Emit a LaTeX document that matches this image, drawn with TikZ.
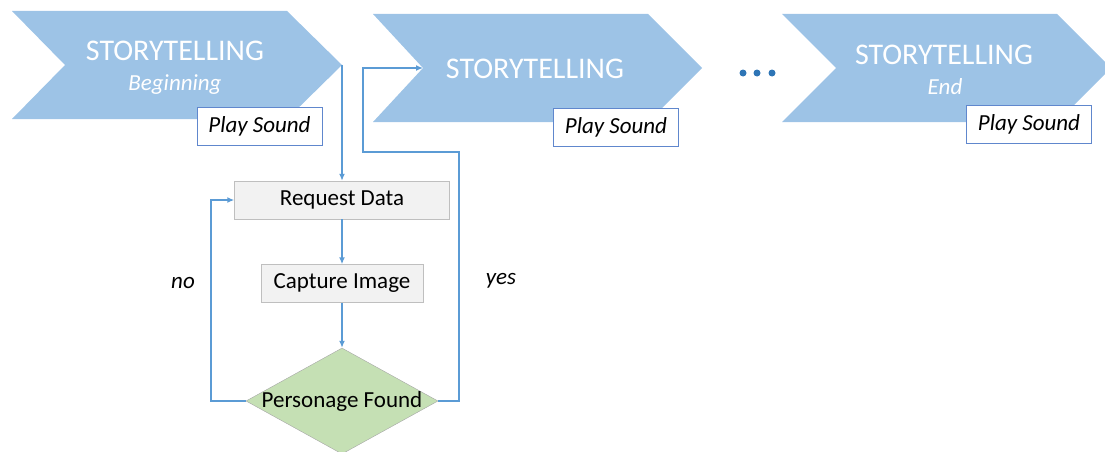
\documentclass[tikz,border=0pt]{standalone}
\usepackage{fontspec}
\setmainfont{Carlito}
\usetikzlibrary{arrows.meta,shapes.geometric}
\definecolor{chev}{HTML}{9DC3E6}
\definecolor{wire}{HTML}{5B9BD5}
\definecolor{frame}{HTML}{4472C4}
\definecolor{boxgray}{HTML}{F2F2F2}
\definecolor{edgegray}{HTML}{BFBFBF}
\definecolor{leaf}{HTML}{C5E0B4}
\definecolor{dotblue}{HTML}{2E75B6}

\begin{document}
\begin{tikzpicture}[x=1pt,y=-1pt,>=Latex,
      chevron/.style={fill=chev},
      title/.style={text=white,anchor=base,font=\fontsize{30}{32}\selectfont},
      subtitle/.style={text=white,anchor=base,font=\fontsize{23}{25}\selectfont\itshape},
      sound/.style={draw=frame!85,line width=1pt,fill=white,minimum width=125pt,minimum height=38pt,
                    inner sep=0pt,font=\fontsize{23}{25}\selectfont\itshape},
      process/.style={draw=edgegray,fill=boxgray,minimum height=38pt,inner sep=0pt,
                    font=\fontsize{23}{25}\selectfont},
      decision/.style={diamond,draw=gray!70,fill=leaf,minimum width=192pt,minimum height=106pt,inner sep=0pt},
      flow/.style={-{Latex[length=7pt,width=6pt]},line width=1.5pt,draw=wire},
      answer/.style={font=\fontsize{23}{25}\selectfont\itshape}]
    \useasboundingbox (0,0) rectangle (1105,452);
    % the three story stages
    \fill[chevron] (12,11) -- (287,11) -- (342,65) -- (287,119) -- (12,119) -- (65,65) -- cycle;
    \fill[chevron] (373,14) -- (648,14) -- (702,68) -- (648,122) -- (373,122) -- (423,68) -- cycle;
    \fill[chevron] (782,14) -- (1057,14) -- (1111,68) -- (1057,122) -- (782,122) -- (836,68) -- cycle;
    \coordinate (tip1) at (342,65);
    \coordinate (notch2) at (423,68);
    \node[title] (st1) at (175,60) {STORYTELLING};
    \node[subtitle] (beg) at (175,90) {Beginning};
    \node[title] (st2) at (535,78) {STORYTELLING};
    \node[title] (st3) at (944,64) {STORYTELLING};
    \node[subtitle] (end) at (945,94) {End};
    \node[sound] (snd1) at (259.5,126.5) {Play Sound};
    \node[sound] (snd2) at (616,127) {Play Sound};
    \node[sound] (snd3) at (1029,124) {Play Sound};
    \foreach \x in {743,757,772}
      \fill[dotblue] (\x,73) circle (3.5);

    % detection loop
    \node[process,minimum width=215pt] (req) at (342,200) {Request Data};
    \node[process,minimum width=162pt] (cap) at (342,283.5) {Capture Image};
    \node[decision,label={[font=\fontsize{23}{25}\selectfont]center:Personage Found}] (found) at (342,401) {};
    \draw[flow] (tip1) -- (tip1 |- req.north);
    \draw[flow] (req.south) -- (cap.north);
    \draw[flow] (cap.south) -- (found.north);
    \draw[flow] (found.west) -- ++(-35,0) |- (req.west);
    \draw[flow] (found.east) -| (459,152) -| (363,68) -- (notch2);
    \node[answer] (no) at (183,283) {no};
    \node[answer] (yes) at (501,281) {yes};
\end{tikzpicture}
\end{document}
